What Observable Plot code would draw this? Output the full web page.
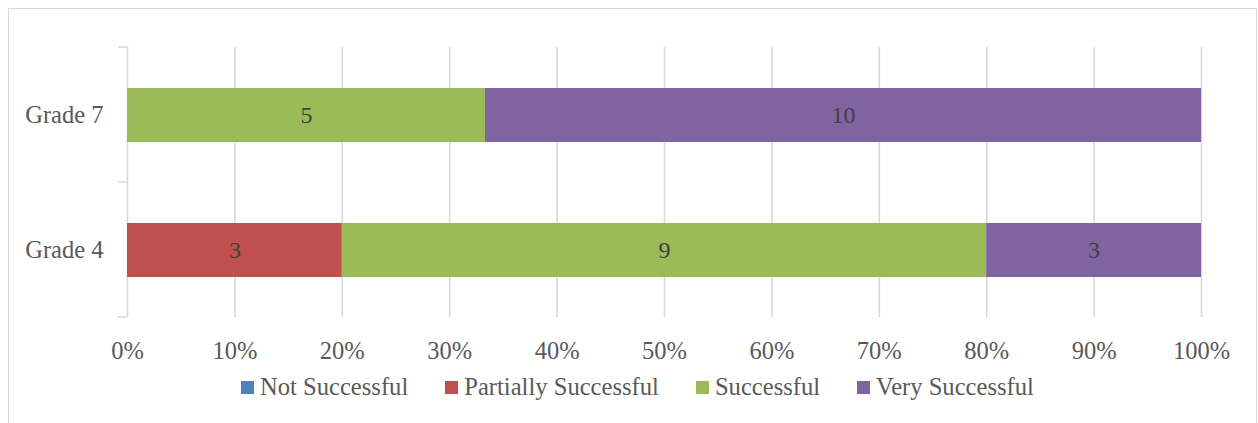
<!DOCTYPE html>
<html>
<head>
<meta charset="utf-8">
<script src="https://cdn.jsdelivr.net/npm/d3@7"></script>
<script src="https://cdn.jsdelivr.net/npm/@observablehq/plot@0.6"></script>
<style>
  body { margin: 0; background: #fff; font-family: "Liberation Serif", serif; }
  #frame { position: absolute; left: 8px; top: 8px; width: 1249px; height: 440px;
           border: 1px solid #d9d9d9; box-sizing: border-box; pointer-events: none; }
  #chart { position: relative; width: 1258px; }
  .legend { display: flex; align-items: center; height: 34px; padding-left: 241px;
            font-size: 24.6px; color: #595959; line-height: 1; }
  .legend .item { display: flex; align-items: center; margin-right: 37px; }
  .legend .sw { width: 13px; height: 13px; margin-right: 6px; }
</style>
</head>
<body>
<div id="frame"></div>
<div id="chart"></div>
<script>
// Categories and series
const grades = ["Grade 7", "Grade 4"];
const levels = ["Not Successful", "Partially Successful", "Successful", "Very Successful"];
const levelColors = ["#4f81bd", "#c0504d", "#9bbb59", "#8064a2"];
const grade7Counts = [0, 0, 5, 10];
const grade4Counts = [0, 3, 9, 3];

// Axis ticks
const xTicks = [0, 0.1, 0.2, 0.3, 0.4, 0.5, 0.6, 0.7, 0.8, 0.9, 1];
const xTickLabels = ["0%", "10%", "20%", "30%", "40%", "50%", "60%", "70%", "80%", "90%", "100%"];

const countsByGrade = { "Grade 7": grade7Counts, "Grade 4": grade4Counts };
const rows = grades.flatMap(g => levels.map((lv, i) => ({ grade: g, level: lv, count: countsByGrade[g][i] })));

const plot = Plot.plot({
  width: 1258,
  height: 370,
  marginLeft: 127,
  marginRight: 57,
  marginTop: 47,
  marginBottom: 53,
  style: { fontFamily: "Liberation Serif, serif", fontSize: "24px", color: "#595959", background: "transparent" },
  x: { domain: [0, 1] },
  y: { domain: grades, paddingInner: 0.6, paddingOuter: 0.3 },
  color: { domain: levels, range: levelColors },
  marks: [
    Plot.gridX(xTicks, { stroke: "#d9d9d9", strokeOpacity: 1, strokeWidth: 1.6 }),
    Plot.barX(rows, Plot.stackX({ x: "count", y: "grade", fill: "level", z: "level", offset: "normalize" })),
    Plot.text(rows, Plot.stackX({
      x: "count", y: "grade", z: "level", offset: "normalize",
      filter: d => d.count > 0, text: d => String(d.count),
      fill: "#404040", fontSize: 24
    })),
    Plot.axisX({ ticks: xTicks, tickFormat: d => xTickLabels[xTicks.indexOf(d)],
                 tickSize: 0, tickPadding: 24, fontSize: 24.5, label: null }),
    Plot.axisY({ tickSize: 0, tickPadding: 24, fontSize: 24.5, label: null })
  ]
});

// Category separator ticks on the left axis, at the band edges
const ys = plot.scale("y");
const gap = (ys.step - ys.bandwidth) / 2;
const yFn = d3.scaleBand().domain(ys.domain).range(ys.range)
  .paddingInner(ys.paddingInner).paddingOuter(ys.paddingOuter);
const edges = [];
ys.domain.forEach(g => {
  edges.push(yFn(g) - gap, yFn(g) + ys.bandwidth + gap);
});
const uniqEdges = Array.from(new Set(edges.map(e => Math.round(e * 10) / 10)));
const x0 = plot.scale("x").apply(0);
d3.select(plot).append("g")
  .selectAll("line").data(uniqEdges).join("line")
  .attr("x1", x0 - 9).attr("x2", x0)
  .attr("y1", d => d).attr("y2", d => d)
  .attr("stroke", "#d9d9d9").attr("stroke-width", 1.6);

document.getElementById("chart").append(plot);

// Legend
const legend = d3.select("#chart").append("div").attr("class", "legend");
const items = legend.selectAll(".item").data(levels).join("div").attr("class", "item");
items.append("div").attr("class", "sw").style("background", (d, i) => levelColors[i]);
items.append("span").text(d => d);
</script>
</body>
</html>
